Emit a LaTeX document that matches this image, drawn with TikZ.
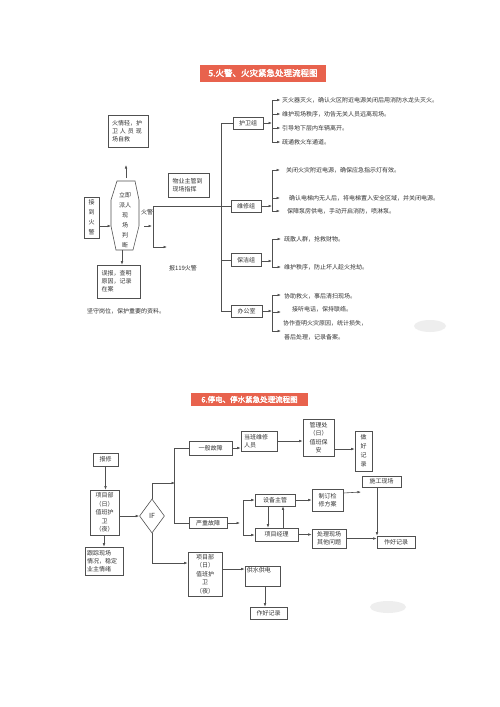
\documentclass[tikz,border=0pt]{standalone}
\usepackage{fontspec}
\setmainfont{Noto Sans CJK SC}
\newfontfamily\tb[FakeBold=2.5]{Noto Sans CJK SC}
\usetikzlibrary{arrows.meta,shapes.geometric}
\definecolor{lc}{HTML}{505050}
\definecolor{tc}{HTML}{333333}
\definecolor{tred}{HTML}{E8624D}
\newcommand\fsz{\fontsize{6}{8}\selectfont}
\newcommand\fsv{\fontsize{6}{10}\selectfont}
\tikzset{
  box/.style={draw=lc, line width=0.6pt, inner sep=1pt, align=center, font=\fsz, text=tc},
  vbox/.style={box, font=\fsv},
  ln/.style={draw=lc, line width=0.6pt},
  arr/.style={ln, -{Latex[length=3.5pt,width=2.6pt]}},
  itxt/.style={inner sep=0pt, anchor=west, font=\fsz, text=tc},
  ttl/.style={fill=tred, inner sep=0pt, text=white},
}
\begin{document}
\begin{tikzpicture}[x=1pt,y=-1pt]
\fill[white] (0,0) rectangle (500,707);
\useasboundingbox (0,0) rectangle (500,707);

% ================= Part 1 =================
\node[ttl, minimum width=126, minimum height=17, font=\tb\fontsize{8.5}{10}\selectfont] (t1) at (263,73) {5.火警、火灾紧急处理流程图};

\node[box, align=left, text width=32, minimum width=40, minimum height=32] (zj) at (128,131) {火情轻，护\\卫\ 人\ 员\ 现\\场自救};

% hexagon
\draw[ln] (117,181) -- (135,181) -- (139,200) -- (139,226) -- (133,250) -- (116,250) -- (111,226) -- (111,200) -- cycle;
\node[inner sep=0pt, align=center, font=\fsv, text=tc] (hx) at (125,220) {立即\\派人\\现\\场\\判\\断};
\coordinate (hexT) at (126,178);
\coordinate (hexB) at (122,250);
\coordinate (hexL) at (111,226);
\coordinate (upE) at (126,165);
\draw[arr] (hexT) -- (upE);

\node[vbox, minimum width=15, minimum height=41, inner sep=0pt] (jd) at (91.5,217.5) {接\\到\\火\\警};
\draw[arr] (jd.east |- hexL) -- (hexL);

\node[box, align=left, text width=34, minimum width=43, minimum height=33] (wb) at (118.5,281.5) {误报，查明\\原因，记录\\在案};
\draw[arr] (hexB) -- (hexB |- wb.north);
\node[itxt] (jsgw) at (87,311) {坚守岗位，保护重要的资料。};

\node[itxt, anchor=center] (hj) at (147,212) {火警};
\coordinate (sa) at (144,226); \coordinate (sb) at (152,226);
\draw[arr] (sa) -- (sb);
\coordinate (j1) at (153,206); \coordinate (j2) at (153,247); \coordinate (j3) at (167,247);
\draw[arr] (j1) -- (j2) -- (j3);
\node[box, align=left, text width=32, minimum width=41, minimum height=24] (wy) at (188.5,185) {物业主管到\\现场指挥};
\node[itxt, anchor=center] (b119) at (183,268) {报119火警};

% groups
\node[box, minimum width=30, minimum height=12] (hw) at (248,123) {护卫组};
\node[box, minimum width=30, minimum height=12] (wx) at (246,206) {维修组};
\node[box, minimum width=30, minimum height=13] (bj) at (246,260) {保洁组};
\node[box, minimum width=31, minimum height=12] (bg) at (246.5,311) {办公室};
\coordinate (mt) at (221,123); \coordinate (mb) at (221,311);
\draw[ln] (hw.west) -- (mt) -- (mb) -- (bg.west);
\draw[ln] (mb |- bj.west) -- (bj.west);
\draw[ln] (j1) -- (wx.west);

% 护卫组 items
\coordinate (hwb) at (272,123);
\draw[arr] (hw.east) -- (hwb);
\draw[ln] (272,100) -- (272,142);
\node[itxt] (h1) at (282,100) {灭火器灭火，确认火区附近电源关闭后用消防水龙头灭火。};
\node[itxt] (h2) at (282,114) {维护现场秩序，劝告无关人员远离现场。};
\node[itxt] (h3) at (282,128) {引导地下层内车辆离开。};
\node[itxt] (h4) at (282,142) {疏通救火车通道。};
\foreach \n in {h1,h2,h3,h4} \draw[arr] (272,0 |- \n.west) -- ([xshift=-1.5pt]\n.west);

% 维修组 items
\coordinate (wxb) at (272,206);
\draw[arr] (wx.east) -- (wxb);
\draw[ln] (272,170) -- (272,211);
\node[itxt] (w1) at (286,170) {关闭火灾附近电源，确保应急指示灯有效。};
\node[itxt] (w2) at (289,198) {确认电梯内无人后，将电梯置入安全区域，并关闭电源。};
\node[itxt] (w3) at (287,211) {保障泵房供电，手动开启消防，喷淋泵。};
\foreach \n in {w1,w2,w3} \draw[arr] (272,0 |- \n.west) -- (280,0 |- \n.west);

% 保洁组 items
\coordinate (bjb) at (272,261);
\draw[arr] (bj.east |- bjb) -- (bjb);
\draw[ln] (272,239) -- (272,267);
\node[itxt] (c1) at (284,239) {疏散人群，抢救财物。};
\node[itxt] (c2) at (284,267) {维护秩序，防止坏人趁火抢劫。};
\foreach \n in {c1,c2} \draw[arr] (272,0 |- \n.west) -- (281,0 |- \n.west);

% 办公室 items
\coordinate (bgb) at (272,311);
\draw[arr] (bg.east) -- (bgb);
\draw[ln] (272,295) -- (272,331);
\node[itxt] (o1) at (284,296) {协助救火，事后清扫现场。};
\node[itxt] (o2) at (292,309) {接听电话，保持联络。};
\node[itxt] (o3) at (283,323) {协作查明火灾原因，统计损失，};
\node[itxt] (o4) at (284,337) {善后处理，记录备案。};
\coordinate (oa1) at (272,295); \coordinate (oa2) at (272,312); \coordinate (oa3) at (272,331);
\draw[arr] (oa1) -- (281,295);
\draw[arr] (oa2) -- (281,312);
\draw[arr] (oa3) -- (281,331);

\fill[gray!18, opacity=0.7] (430,326) ellipse (16 and 6);

% ================= Part 2 =================
\node[ttl, minimum width=117, minimum height=13, font=\tb\fontsize{7.5}{9}\selectfont] (t2) at (249.5,399.5) {6.停电、停水紧急处理流程图};

\node[box, minimum width=25, minimum height=13] (bx) at (105.5,459.5) {报修};
\node[box, minimum width=29, minimum height=45, font=\fontsize{6}{8.5}\selectfont] (xm1) at (104.5,512.5) {项目部\\（日）\\值班护\\卫\\（夜）};
\node[box, align=left, text width=34, minimum width=38, minimum height=28] (gz) at (104,561) {跟踪现场\\情况，稳定\\业主情绪};
\node[draw=lc, line width=0.6pt, diamond, minimum width=25, minimum height=34, inner sep=0pt, font=\fontsize{7}{8}\selectfont, text=tc] (if) at (152,516) {IF};

\draw[arr] (bx.south) -- (bx.south |- xm1.north);
\draw[arr] (xm1.east |- if.west) -- (if.west);
\draw[arr] (xm1.south -| gz.north) -- (gz.north);

\node[box, minimum width=43, minimum height=14] (yb) at (210.5,448) {一般故障};
\node[box, minimum width=38, minimum height=11] (yz) at (208,523) {严重故障};
\coordinate (ifu) at (152,483); \coordinate (ifr) at (175,483);
\draw[arr] (if.north) -- (ifu) -- (ifr);
\draw[ln] (yb.west) -- ++(-14,0) |- (yz.west);

\node[box, minimum width=34, minimum height=44, font=\fontsize{6}{8.5}\selectfont] (xm2) at (205,574) {项目部\\（日）\\值班护\\卫\\（夜）};
\coordinate (ifd) at (152,563);
\draw[arr] (if.south) -- (ifd) -- (ifd -| xm2.west);

\node[box, align=left, text width=30, minimum width=36, minimum height=20] (dbwx) at (259,441) {当班维修\\人员};
\draw[arr] (yb.east) -- (yb.east -| dbwx.west);
\node[box, minimum width=31, minimum height=37, font=\fontsize{6}{8.5}\selectfont] (glc) at (318.5,437.5) {管理处\\（日）\\值班保\\安};
\draw[arr] (dbwx.east) -- (dbwx.east -| glc.west);
\node[vbox, minimum width=17, minimum height=40, inner sep=0pt, font=\fontsize{6}{9}\selectfont] (zh1) at (363.5,451) {做\\好\\记\\录};
\draw[arr] ([yshift=-11.5pt]glc.east) -- ([yshift=-11.5pt]glc.east -| zh1.west);

\node[box, minimum width=39, minimum height=11] (sg) at (381.5,481.5) {施工现场};
\node[box, minimum width=40, minimum height=12] (sbzg) at (275,500) {设备主管};
\node[box, minimum width=31, minimum height=22] (zdjx) at (327.5,500) {制订检\\修方案};
\node[box, minimum width=43, minimum height=13] (xmjl) at (276.5,534.5) {项目经理};
\node[box, minimum width=34, minimum height=19] (clxc) at (329,538.5) {处理现场\\其他问题};
\node[box, minimum width=38, minimum height=12] (zh2) at (396,542) {作好记录};

\coordinate (yzA) at (240,523);
\draw[arr] (yz.east) -- (yzA);
\coordinate (ybt) at (243,500); \coordinate (ybb) at (243,535);
\draw[ln] (ybt) -- (ybb);
\draw[arr] (ybt) -- (sbzg.west);
\draw[arr] (ybb) -- (ybb -| xmjl.west);
\draw[arr] ([xshift=-7pt]sbzg.south) -- ([xshift=-7pt]sbzg.south |- xmjl.north);
\draw[arr] ([xshift=6.5pt]xmjl.north) -- ([xshift=6.5pt]xmjl.north |- sbzg.south);
\draw[arr] (sbzg.east) -- (zdjx.west);
\draw[arr] (xmjl.east) -- (xmjl.east -| clxc.west);
\coordinate (sgA) at (361,492);
\draw[arr] ([yshift=7pt]zdjx.east) -- (sgA);
\draw[arr] ([xshift=-4.5pt]sg.south) -- ([xshift=-4.5pt]sg.south |- zh2.north);
\draw[arr] (clxc.east) -- (clxc.east -| zh2.west);

\node[draw=lc, line width=0.6pt, minimum width=35, minimum height=20, inner sep=0pt,
  label={[anchor=north west, inner sep=2pt, font=\fsz, text=tc]north west:供水供电}] (gs) at (262.5,576) {};
\draw[arr] ([yshift=5pt]xm2.east) -- ([yshift=5pt]xm2.east -| gs.west);
\node[box, minimum width=37, minimum height=12] (zh3) at (268.5,613) {作好记录};
\draw[arr] ([xshift=2.5pt]gs.south) -- ([xshift=2.5pt]gs.south |- zh3.north);

\fill[gray!18, opacity=0.7] (388,607) ellipse (18 and 6);
\end{tikzpicture}
\end{document}
